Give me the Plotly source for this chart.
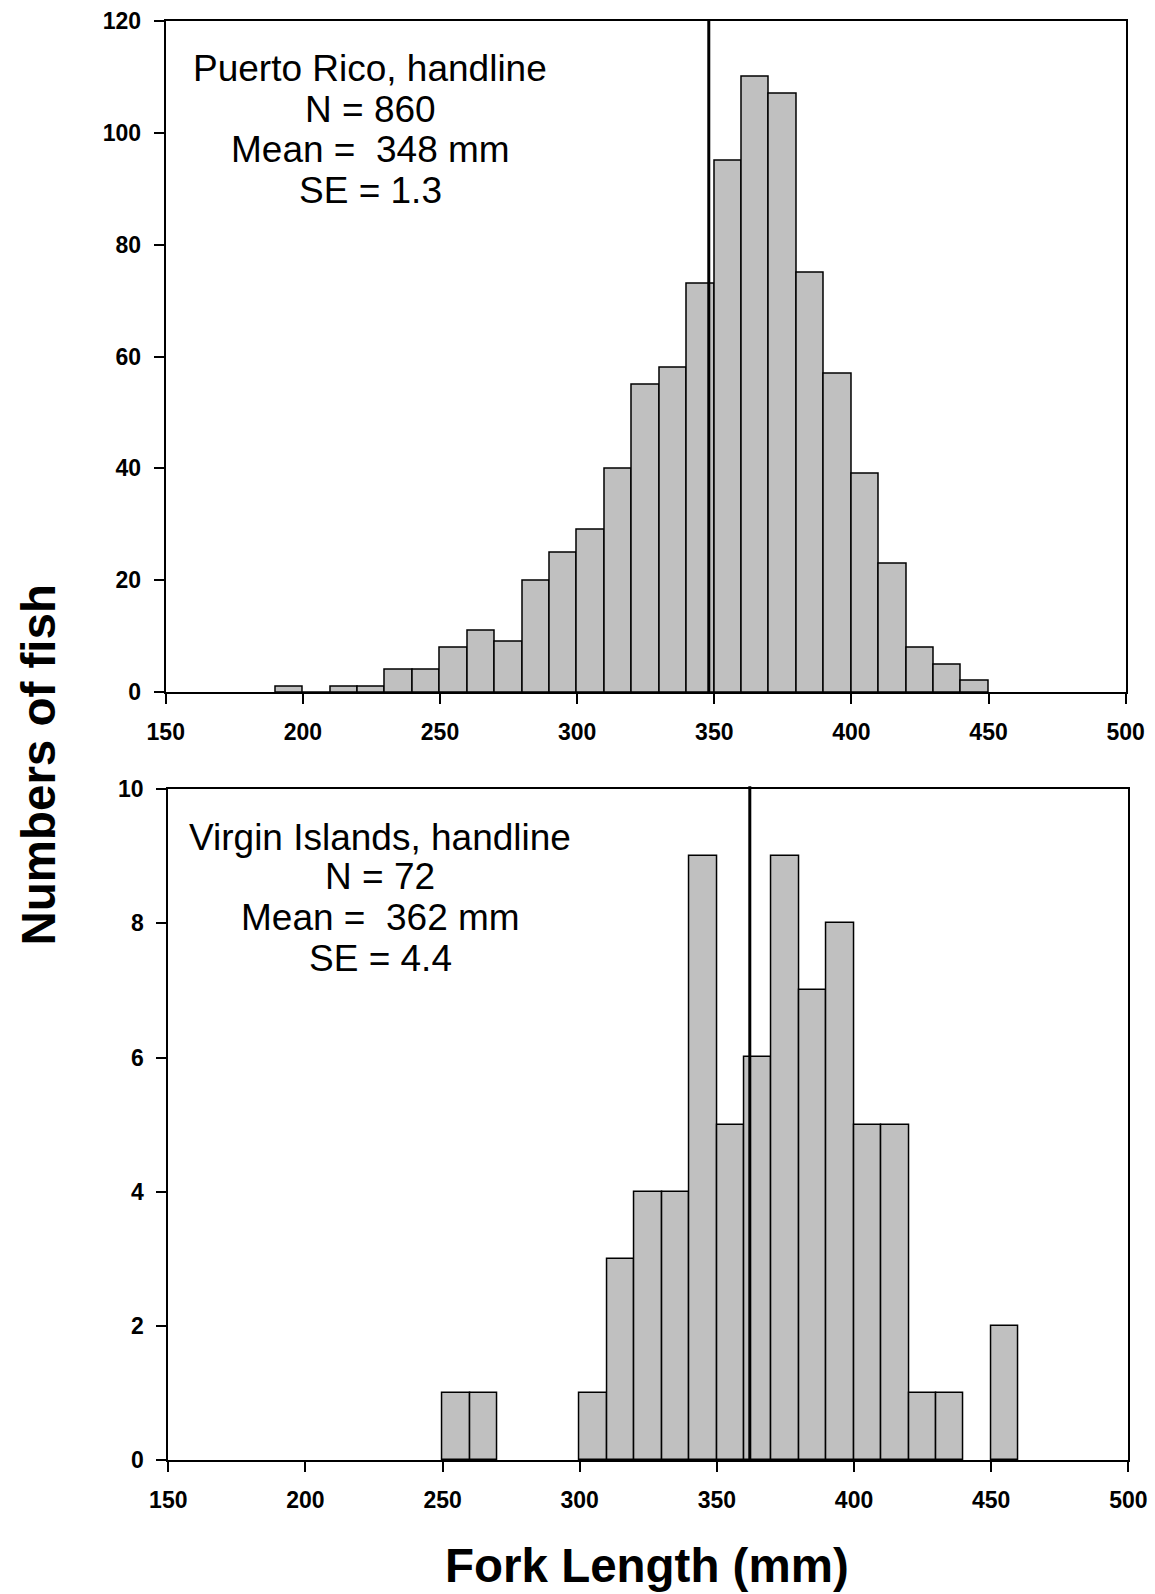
import plotly.graph_objects as go

# ---- data ----
pr_bin_start = [190, 200, 210, 220, 230, 240, 250, 260, 270, 280, 290, 300, 310,
                320, 330, 340, 350, 360, 370, 380, 390, 400, 410, 420, 430, 440]
pr_counts = [1, 0, 1, 1, 4, 4, 8, 11, 9, 20, 25, 29, 40,
             55, 58, 73, 95, 110, 107, 75, 57, 39, 23, 8, 5, 2]
pr_mean = 348
pr_text = ["Puerto Rico, handline", "N = 860", "Mean =  348 mm", "SE = 1.3"]

vi_bin_start = [250, 260, 300, 310, 320, 330, 340, 350, 360, 370, 380, 390,
                400, 410, 420, 430, 450]
vi_counts = [1, 1, 1, 3, 4, 4, 9, 5, 6, 9, 7, 8, 5, 5, 1, 1, 2]
vi_mean = 362
vi_text = ["Virgin Islands, handline", "N = 72", "Mean =  362 mm", "SE = 4.4"]

bin_width = 10
x_ticks = [150, 200, 250, 300, 350, 400, 450, 500]
pr_y_ticks = [0, 20, 40, 60, 80, 100, 120]
vi_y_ticks = [0, 2, 4, 6, 8, 10]

x_title = "Fork Length (mm)"
y_title = "Numbers of fish"

W, H = 1155, 1594
FONT = "Liberation Sans, Arial, sans-serif"

fig = go.Figure()

def add_bars(starts, counts, xa, ya):
    fig.add_trace(go.Bar(
        x=[s + bin_width / 2 for s in starts], y=counts, width=bin_width,
        marker=dict(color="#c0c0c0", line=dict(color="black", width=1.5)),
        xaxis=xa, yaxis=ya, showlegend=False, hoverinfo="x+y",
    ))

add_bars(pr_bin_start, pr_counts, "x", "y")
add_bars(vi_bin_start, vi_counts, "x2", "y2")

tickfont = dict(family=FONT, size=23, color="black", weight="bold")
axis_common = dict(showgrid=False, zeroline=False, showline=True, linecolor="black",
                   linewidth=2, mirror=True, ticks="outside", ticklen=10,
                   tickwidth=1.5, tickcolor="black", tickfont=tickfont,
                   automargin=False)

fig.update_layout(
    template="none", autosize=False,
    width=W, height=H, margin=dict(l=0, r=0, t=0, b=0, pad=0),
    plot_bgcolor="white", paper_bgcolor="white", bargap=0,
    xaxis=dict(domain=[0.1435, 0.9746], range=[150, 500], tickvals=x_ticks,
               anchor="y", ticklabelstandoff=8, **axis_common),
    yaxis=dict(domain=[0.5657, 0.987], range=[0, 120], tickvals=pr_y_ticks,
               anchor="x", ticklabelstandoff=8, **axis_common),
    xaxis2=dict(domain=[0.1457, 0.9769], range=[150, 500], tickvals=x_ticks,
                anchor="y2", ticklabelstandoff=8, **axis_common),
    yaxis2=dict(domain=[0.0839, 0.505], range=[0, 10], tickvals=vi_y_ticks,
                anchor="x2", ticklabelstandoff=8, **axis_common),
)

# mean lines
fig.add_shape(type="line", xref="x", yref="y domain", x0=pr_mean, x1=pr_mean,
              y0=0, y1=1, line=dict(color="black", width=3))
fig.add_shape(type="line", xref="x2", yref="y2 domain", x0=vi_mean, x1=vi_mean,
              y0=0, y1=1.004, line=dict(color="black", width=3))

# text blocks
annfont = dict(family=FONT, size=37, color="black")
pr_y = [111.4, 104.2, 96.9, 89.6]
for t, yy in zip(pr_text, pr_y):
    fig.add_annotation(x=224.5, y=yy, xref="x", yref="y", text=t, showarrow=False,
                       font=annfont, xanchor="center", yanchor="middle")
vi_y = [9.285, 8.69, 8.08, 7.47]
for t, yy in zip(vi_text, vi_y):
    fig.add_annotation(x=227.2, y=yy, xref="x2", yref="y2", text=t, showarrow=False,
                       font=annfont, xanchor="center", yanchor="middle")

# axis titles
fig.add_annotation(x=37.6 / W, y=1 - 765 / H, xref="paper", yref="paper",
                   text=y_title, showarrow=False, textangle=-90,
                   font=dict(family=FONT, size=47.5, color="black", weight="bold"),
                   xanchor="center", yanchor="middle")
fig.add_annotation(x=647 / W, y=1 - 1565 / H, xref="paper", yref="paper",
                   text=x_title, showarrow=False,
                   font=dict(family=FONT, size=47.5, color="black", weight="bold"),
                   xanchor="center", yanchor="middle")

fig.write_html("out.html")
